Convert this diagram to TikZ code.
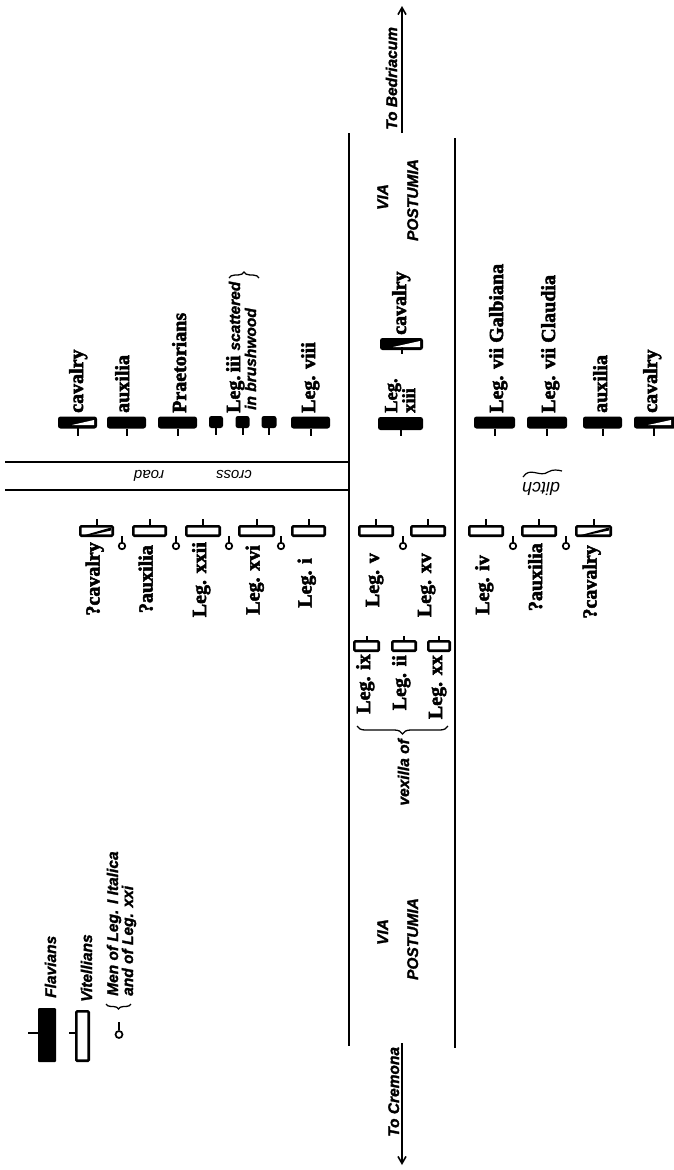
\documentclass[tikz,border=0pt]{standalone}
\usepackage{fontspec}
\setmainfont{Liberation Serif}[BoldFeatures={FakeBold=2.5}]
\setsansfont{Liberation Sans}[BoldItalicFeatures={FakeBold=1.5}]
\usetikzlibrary{arrows.meta,decorations.pathreplacing}
\newcommand\labfont{\bfseries\fontsize{20}{19}\selectfont}
\newcommand\sitfont{\sffamily\bfseries\itshape\fontsize{15.5}{15}\selectfont}
\newcommand\crfont{\sffamily\itshape\fontsize{15}{15}\selectfont}
\begin{document}
\begin{tikzpicture}[x=1pt,y=-1pt,
  flav/.style={fill=black, rounded corners=2.5pt, inner sep=0pt, outer sep=0pt, minimum height=12pt},
  vit/.style={draw=black, line width=2.6pt, fill=white, rounded corners=1pt, inner sep=0pt, outer sep=0pt, minimum height=9.4pt},
  stem/.style={line width=2pt},
  roadline/.style={line width=1.6pt},
  flab/.style={font=\labfont, rotate=90, anchor=base west, inner sep=0pt},
  vlab/.style={font=\labfont, rotate=90, anchor=base east, inner sep=0pt},
  slab/.style={font=\sitfont, rotate=90, inner sep=0pt},
  men/.style={circle, draw=black, line width=1.7pt, fill=white, inner sep=0pt, minimum size=6.5pt},
  bracedec/.style={decorate, decoration={brace, amplitude=#1}, line width=1.3pt},
  arrowtip/.style={-{Straight Barb[length=7pt,width=8pt]}}
]
\useasboundingbox (0,0) rectangle (673,1170);

% roads
\coordinate (rl1) at (349,133); \coordinate (rl2) at (349,1046);
\coordinate (rr1) at (455,138); \coordinate (rr2) at (455,1048);
\draw[roadline] (rl1) -- (rl2);
\draw[roadline] (rr1) -- (rr2);
\coordinate (cr1) at (5,462); \coordinate (cr2) at (349,462);
\coordinate (cr3) at (5,490); \coordinate (cr4) at (349,490);
\draw[roadline] (cr1) -- (cr2);
\draw[roadline] (cr3) -- (cr4);
\node[font=\crfont, rotate=180, inner sep=0pt] (crossroad) at (193,476) {cross\hspace{52pt}road};

% arrows
\coordinate (ab1) at (402,133); \coordinate (ab2) at (402,6);
\draw[roadline, arrowtip] (ab1) -- (ab2);
\node[slab, anchor=base west] (tobed) at (397,130) {To Bedriacum};
\coordinate (ac1) at (402,1043); \coordinate (ac2) at (402,1165);
\draw[roadline, arrowtip] (ac1) -- (ac2);
\node[slab, anchor=base west] (tocrem) at (399,1137) {To Cremona};

\node[slab, anchor=base] (via1) at (388,197) {VIA};
\node[slab, anchor=base] (post1) at (418,200) {POSTUMIA};
\node[slab, anchor=base] (via2) at (388,932) {VIA};
\node[slab, anchor=base] (post2) at (418,939) {POSTUMIA};

% ditch
\node[font=\sffamily\itshape\fontsize{18}{18}\selectfont, rotate=180, inner sep=0pt] (ditch) at (541,489) {ditch};
\draw[line width=1.2pt] (523,477) .. controls (530,466) and (540,478) .. (548,472) .. controls (553,469) and (558,470) .. (562,471);

% ===== Flavians =====
\node[flav, minimum width=39pt] (fcavA) at (77.5,422.5) {};
\fill[white] (72,425) -- (94,420) -- (94,425) -- cycle;
\draw[stem] (fcavA.south) ++(0,-3) -- ++(0,10);
\node[flab] (lfcavA) at (83,413) {cavalry};

\node[flav, minimum width=39pt] (fauxA) at (126.5,422.5) {};
\draw[stem] (fauxA.south) -- ++(0,7);
\node[flab] (lfauxA) at (129,413) {auxilia};

\node[flav, minimum width=39pt] (fpraet) at (177.5,422.5) {};
\draw[stem] (fpraet.south) -- ++(0,7);
\node[flab] (lfpraet) at (186,413) {Praetorians};

\node[flav, minimum width=14pt] (fiiiA) at (216,422) {};
\draw[stem] (fiiiA.south) -- ++(0,7);
\node[flav, minimum width=14pt] (fiiiB) at (242.5,422) {};
\draw[stem] (fiiiB.south) -- ++(0,7);
\node[flav, minimum width=15pt] (fiiiC) at (269,422) {};
\draw[stem] (fiiiC.south) -- ++(0,7);
\node[flab] (lfiiiA) at (240,413) {Leg.\,iii {\sitfont scattered}};
\node[flab, font=\sitfont] (lfiiiB) at (256,410) {in brushwood};
\coordinate (biiiA) at (229,278); \coordinate (biiiB) at (259,278);
\draw[bracedec=6pt] (biiiA) -- (biiiB);

\node[flav, minimum width=39pt] (fviii) at (310.5,422.5) {};
\draw[stem] (fviii.south) -- ++(0,7);
\node[flab] (lfviii) at (315,413) {Leg. viii};

\node[flav, minimum width=45pt, minimum height=13pt] (fxiii) at (400.5,423.5) {};
\draw[stem] (fxiii.south) -- ++(0,6);
\node[font=\bfseries\fontsize{18.5}{13}\selectfont, rotate=90, anchor=west, align=left, inner sep=0pt] (lfxiii) at (400,413) {Leg.\\xiii};

\node[flav, minimum width=43pt, minimum height=12pt] (fcavB) at (401.5,344) {};
\fill[white] (393,347) -- (420,341) -- (420,347) -- cycle;
\draw[stem] (fcavB.south) ++(0,-3) -- ++(0,7);
\node[flab] (lfcavB) at (406,335) {cavalry};

\node[flav, minimum width=41pt] (fgalb) at (494.5,422.5) {};
\draw[stem] (fgalb.south) -- ++(0,7);
\node[flab] (lfgalb) at (503,413) {Leg. vii Galbiana};

\node[flav, minimum width=40pt] (fclau) at (547,422.5) {};
\draw[stem] (fclau.south) -- ++(0,7);
\node[flab] (lfclau) at (555,413) {Leg. vii Claudia};

\node[flav, minimum width=39pt] (fauxB) at (602.5,422.5) {};
\draw[stem] (fauxB.south) -- ++(0,7);
\node[flab] (lfauxB) at (607,413) {auxilia};

\node[flav, minimum width=42pt] (fcavC) at (655,422.5) {};
\fill[white] (648,425) -- (671,420) -- (671,425) -- cycle;
\draw[stem] (fcavC.south) ++(-1.5,-3) -- ++(0,10);
\node[flab] (lfcavC) at (657,413) {cavalry};

% ===== Vitellians =====
\node[vit, minimum width=32.4pt] (vcavA) at (96.5,531) {};
\fill (85,535) -- (111,527.5) -- (111,530.5) -- (91,535) -- cycle;
\draw[stem] (vcavA.north) -- ++(0,-7);
\node[vlab] (lvcavA) at (99.5,542) {?cavalry};

\node[vit, minimum width=32.4pt] (vauxA) at (149.5,531) {};
\draw[stem] (vauxA.north) -- ++(0,-7);
\node[vlab] (lvauxA) at (152.5,545) {?auxilia};

\node[vit, minimum width=33.4pt] (vxxii) at (203,531) {};
\draw[stem] (vxxii.north) -- ++(0,-7);
\node[vlab] (lvxxii) at (206,542) {Leg. xxii};

\node[vit, minimum width=34.4pt] (vxvi) at (256.5,531) {};
\draw[stem] (vxvi.north) -- ++(0,-7);
\node[vlab] (lvxvi) at (259.5,545) {Leg. xvi};

\node[vit, minimum width=32.4pt] (vi) at (308.5,531) {};
\draw[stem] (vi.north) -- ++(0,-7);
\node[vlab] (lvi) at (311.5,558) {Leg. i};

\node[vit, minimum width=33.4pt] (vv) at (376,531) {};
\draw[stem] (vv.north) -- ++(0,-7);
\node[vlab] (lvv) at (379,553) {Leg. v};

\node[vit, minimum width=33.4pt] (vxv) at (428,531) {};
\draw[stem] (vxv.north) -- ++(0,-7);
\node[vlab] (lvxv) at (431,553) {Leg. xv};

\node[vit, minimum width=33.4pt] (viv) at (486,531) {};
\draw[stem] (viv.north) -- ++(0,-7);
\node[vlab] (lviv) at (489,555) {Leg. iv};

\node[vit, minimum width=33.4pt] (vauxB) at (539,531) {};
\draw[stem] (vauxB.north) -- ++(0,-7);
\node[vlab] (lvauxB) at (542,543) {?auxilia};

\node[vit, minimum width=34.4pt] (vcavB) at (593.5,531) {};
\fill (581,535) -- (609,527.5) -- (609,530.5) -- (587,535) -- cycle;
\draw[stem] (vcavB.north) -- ++(0,-7);
\node[vlab] (lvcavB) at (596.5,545) {?cavalry};

% men of Leg. I Italica and xxi
\foreach \mx [count=\mi] in {122,176,229,281,403,513,566}{
  \node[men] (men\mi) at (\mx,546) {};
  \draw[line width=1.6pt] (men\mi.north) -- ++(0,-6);
}

% vexilla
\node[vit, minimum width=24.4pt] (xix) at (366.5,646) {};
\draw[stem] (xix.north) -- ++(0,-5);
\node[vlab] (lxix) at (370,654) {Leg. ix};
\node[vit, minimum width=23.4pt] (xii) at (404,646) {};
\draw[stem] (xii.north) -- ++(0,-5);
\node[vlab] (lxii) at (406,655) {Leg. ii};
\node[vit, minimum width=21.4pt] (xxx) at (439,646) {};
\draw[stem] (xxx.north) -- ++(0,-5);
\node[vlab] (lxxx) at (442,655) {Leg. xx};
\coordinate (bvA) at (448,726); \coordinate (bvB) at (357,726);
\draw[bracedec=8pt] (bvA) -- (bvB);
\node[slab, anchor=base east] (vexof) at (409,739) {vexilla of};

% legend
\node[flav, rounded corners=1pt, minimum width=18pt, minimum height=54pt] (legfl) at (47,1035) {};
\draw[stem] (legfl.west) ++(0,-2) -- ++(-10,0);
\node[slab, anchor=base west] (legfltxt) at (56,998) {Flavians};
\node[vit, minimum width=12.4pt, minimum height=49.4pt] (legvi) at (82.5,1036) {};
\draw[stem] (legvi.west) ++(0,-3) -- ++(-7,0);
\node[slab, anchor=base west] (legvitxt) at (92,1002) {Vitellians};
\node[men, minimum size=7pt] (legmen) at (119,1034.5) {};
\draw[line width=1.6pt] (legmen.north) -- ++(0,-8);
\coordinate (blA) at (131,1004); \coordinate (blB) at (106,1004);
\draw[bracedec=5pt] (blA) -- (blB);
\node[slab, anchor=base west] (legmentxtA) at (118,996) {Men of Leg. I Italica};
\node[slab, anchor=base west] (legmentxtB) at (133,996) {and of Leg. xxi};
\end{tikzpicture}
\end{document}
